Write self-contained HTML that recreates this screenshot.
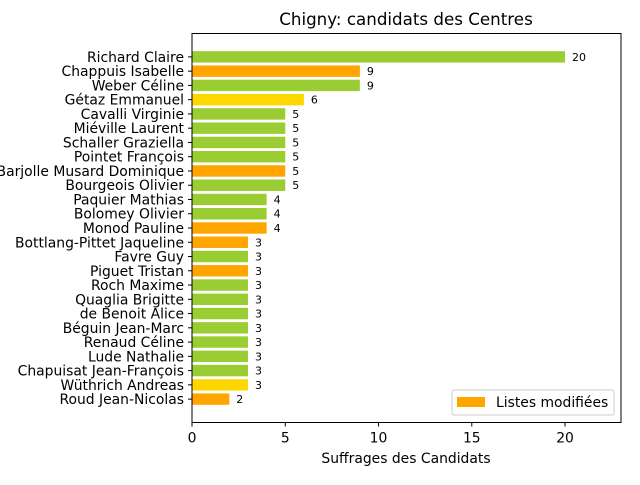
<!DOCTYPE html>
<html><head><meta charset="utf-8"><style>
body{margin:0;background:#fff;font-family:"Liberation Sans","DejaVu Sans",sans-serif;}
svg text{font-family:"DejaVu Sans","Liberation Sans",sans-serif;}
</style></head><body>
<svg id="chart" width="640" height="480" xmlns="http://www.w3.org/2000/svg">
<rect width="640" height="480" fill="#fff"/>
<text x="406" y="25" font-size="16.7" text-anchor="middle">Chigny: candidats des Centres</text>
<g id="bars"></g>
<rect x="192" y="33.5" width="429" height="389" fill="none" stroke="#000" stroke-width="1"/>
<g id="xaxis"></g>
<text x="406" y="463" font-size="13.9" text-anchor="middle">Suffrages des Candidats</text>
<g>
<rect x="452" y="390" width="162" height="25" rx="2" fill="#fff" stroke="#ccc"/>
<rect x="457" y="397" width="28" height="10" fill="#ffa500"/>
<text x="496" y="407" font-size="13.9">Listes modifiées</text>
</g>
</svg>
<script>
const names=["Richard Claire","Chappuis Isabelle","Weber Céline","Gétaz Emmanuel","Cavalli Virginie","Miéville Laurent","Schaller Graziella","Pointet François","Barjolle Musard Dominique","Bourgeois Olivier","Paquier Mathias","Bolomey Olivier","Monod Pauline","Bottlang-Pittet Jaqueline","Favre Guy","Piguet Tristan","Roch Maxime","Quaglia Brigitte","de Benoit Alice","Béguin Jean-Marc","Renaud Céline","Lude Nathalie","Chapuisat Jean-François","Wüthrich Andreas","Roud Jean-Nicolas"];
const votes=[20,9,9,6,5,5,5,5,5,5,4,4,4,3,3,3,3,3,3,3,3,3,3,3,2];
const groups=["g","o","g","y","g","g","g","g","o","g","g","g","o","o","g","o","g","g","g","g","g","g","g","y","o"];
const xTicks=[0,5,10,15,20];
const colorMap={g:"#9acd32",o:"#ffa500",y:"#ffd700"};
const NS="http://www.w3.org/2000/svg";
const x0=192,x1=621,xmax=23,yTop=33.5,yBot=422.5;
const n=names.length;
const step=(yBot-yTop)/(n-1+0.8+2*0.05*(n-1+0.8));
function xs(v){return x0+v/xmax*(x1-x0);}
function yc(i){const m=0.05*(n-1+0.8);return yTop+(m+0.4+i)*step;}
const bars=document.getElementById('bars');
names.forEach((nm,i)=>{
 const r=document.createElementNS(NS,'rect');
 
 
 r.setAttribute('x',xs(0));r.setAttribute('y',yc(i)-0.4*step);
 r.setAttribute('width',xs(votes[i])-xs(0));r.setAttribute('height',0.8*step);
 r.setAttribute('fill',colorMap[groups[i]]);bars.appendChild(r);
 const v=document.createElementNS(NS,'text');
 
 
 v.setAttribute('x',xs(votes[i])+7);v.setAttribute('y',yc(i)+4);v.setAttribute('font-size','11');
 v.textContent=votes[i];bars.appendChild(v);
 const l=document.createElementNS(NS,'text');
 
 
 l.setAttribute('x',x0-8);l.setAttribute('y',yc(i)+5);l.setAttribute('font-size','13.9');l.setAttribute('text-anchor','end');
 l.textContent=nm;bars.appendChild(l);
 const t=document.createElementNS(NS,'line');
 
 
 t.setAttribute('x1',x0-4);t.setAttribute('x2',x0);t.setAttribute('y1',yc(i));t.setAttribute('y2',yc(i));t.setAttribute('stroke','#000');bars.appendChild(t);
});
const xa=document.getElementById('xaxis');
xTicks.forEach(v=>{
 const t=document.createElementNS(NS,'line');
 
 
 t.setAttribute('x1',xs(v));t.setAttribute('x2',xs(v));t.setAttribute('y1',yBot);t.setAttribute('y2',yBot+4);t.setAttribute('stroke','#000');xa.appendChild(t);
 const l=document.createElementNS(NS,'text');
 
 
 l.setAttribute('x',xs(v));l.setAttribute('y',yBot+20);l.setAttribute('font-size','13.9');l.setAttribute('text-anchor','middle');
 l.textContent=v;xa.appendChild(l);
});
</script>
</body></html>
